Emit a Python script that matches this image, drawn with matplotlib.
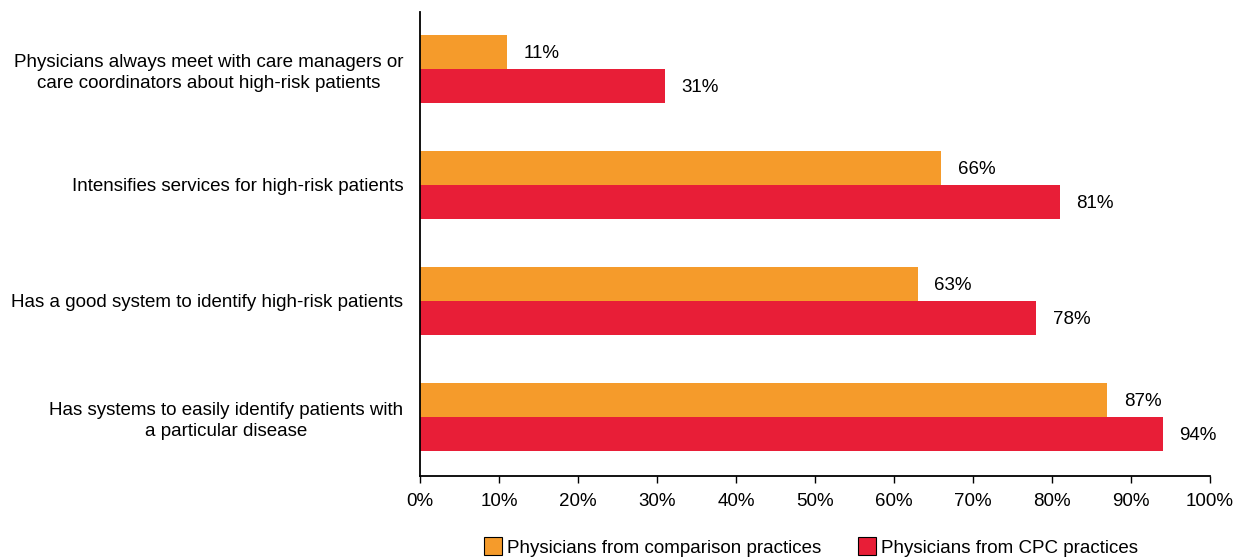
import matplotlib.pyplot as plt
import numpy as np
from matplotlib.patches import Patch

plt.rcParams['font.family'] = ['Liberation Sans', 'DejaVu Sans']
plt.rcParams['font.size'] = 13.5

categories = [
    'Physicians always meet with care managers or\ncare coordinators about high-risk patients',
    'Intensifies services for high-risk patients',
    'Has a good system to identify high-risk patients',
    'Has systems to easily identify patients with\na particular disease',
]
comparison = [11, 66, 63, 87]
cpc = [31, 81, 78, 94]
series_names = ['Physicians from comparison practices', 'Physicians from CPC practices']
colors = ['#F59B2B', '#E81E37']


def main():
    fig = plt.figure(figsize=(12.43, 5.58), dpi=100)
    ax = fig.add_axes([0.3379, 0.147, 0.6356, 0.8315])
    y = np.arange(len(categories))
    h = 0.293
    b1 = ax.barh(y - h / 2, comparison, height=h, color=colors[0])
    b2 = ax.barh(y + h / 2, cpc, height=h, color=colors[1])
    for bars, vals in ((b1, comparison), (b2, cpc)):
        for bar, v in zip(bars, vals):
            ax.annotate(f'{v}%', (v, bar.get_y() + bar.get_height() / 2),
                        xytext=(12, -1), textcoords='offset points',
                        ha='left', va='center')

    ax.set_xlim(0, 100)
    ax.set_ylim(3.51, -0.49)
    ax.set_xticks(np.arange(0, 101, 10))
    ax.set_xticklabels([f'{t}%' for t in range(0, 101, 10)])
    ax.set_yticks(y)
    ax.set_yticklabels(categories, multialignment='center', linespacing=1.3)
    ax.tick_params(axis='y', length=0, pad=12)
    ax.tick_params(axis='x', direction='out', length=5, width=1, pad=7)
    for s in ('top', 'right'):
        ax.spines[s].set_visible(False)
    for s in ('left', 'bottom'):
        ax.spines[s].set_linewidth(1.3)

    handles = [Patch(facecolor=c, edgecolor='black', linewidth=0.8) for c in colors]
    fig.legend(handles, series_names, loc='center', bbox_to_anchor=(0.6525, 0.02),
               ncol=2, frameon=False, handlelength=0.95, handleheight=1.1,
               handletextpad=0.25, columnspacing=2.0)
    plt.savefig('out.png', dpi=100)
    plt.close()


if __name__ == '__main__':
    main()
